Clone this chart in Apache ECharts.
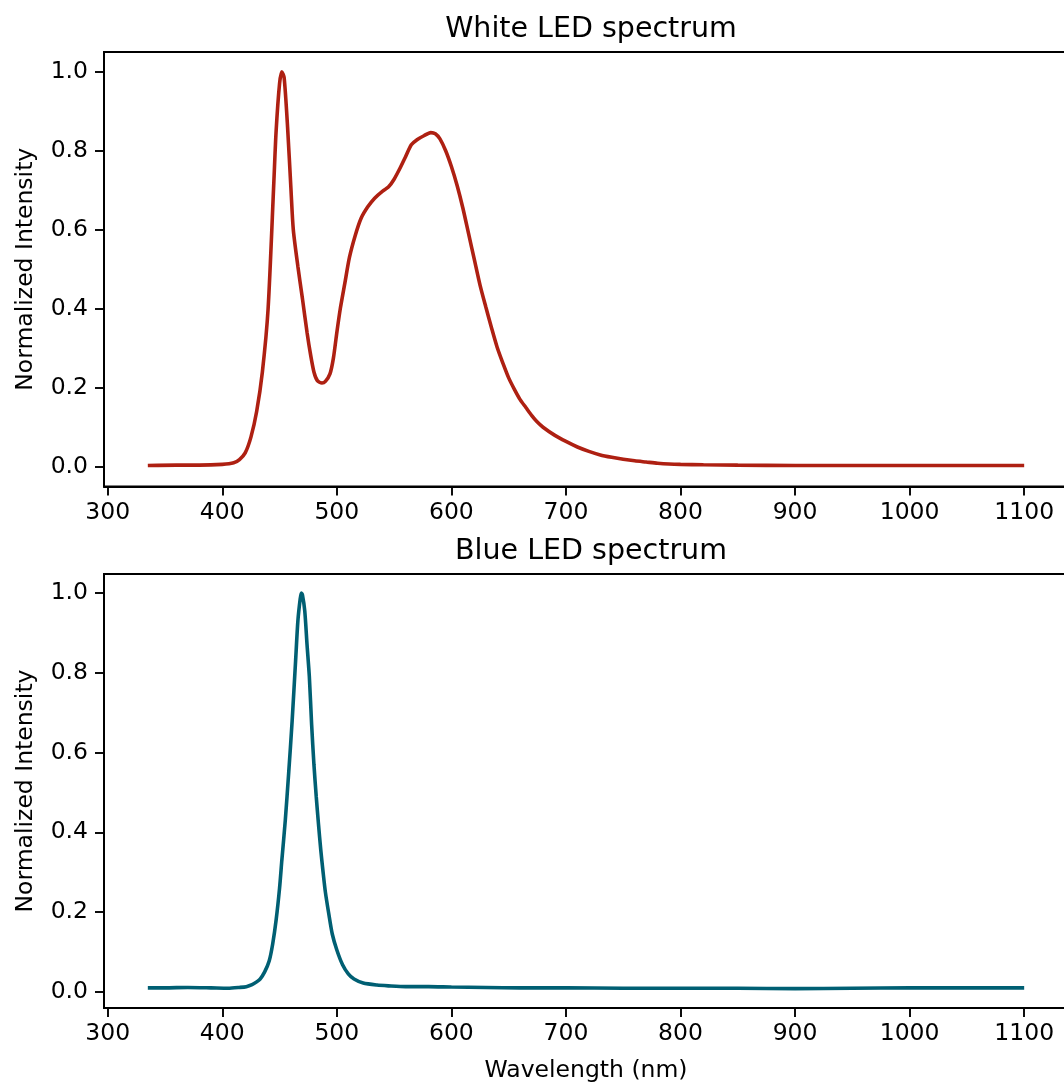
<!DOCTYPE html>
<html>
<head>
<meta charset="utf-8">
<script src="https://cdn.jsdelivr.net/npm/echarts@6/dist/echarts.min.js"></script>
<style>
  html, body { margin: 0; padding: 0; background: #ffffff; }
  #chart { width: 1064px; height: 1085px; }
</style>
</head>
<body>
<div id="chart"></div>
<script>
// White LED emission spectrum (wavelength in nm, normalized intensity)
const whiteWavelength = [
  335, 360, 380, 400, 410, 415, 420, 425, 430, 435, 440, 445, 447, 450, 452, 454, 457, 460, 462, 466,
  470, 474, 477, 480, 483, 487, 490, 494, 497, 500, 503, 507, 511, 516, 521, 527, 533, 540, 545, 550,
  555, 560, 565, 570, 576, 582, 586, 590, 595, 600, 605, 610, 615, 620, 625, 630, 635, 640, 645, 650,
  655, 660, 665, 670, 675, 680, 690, 700, 710, 720, 730, 740, 750, 760, 770, 780, 790, 800, 820, 850,
  900, 950, 1000, 1050, 1100
];
const whiteIntensity = [
  0.003, 0.004, 0.004, 0.006, 0.010, 0.018, 0.035, 0.075, 0.140, 0.240, 0.400, 0.720, 0.850, 0.970, 1.000, 0.985, 0.860, 0.700, 0.600, 0.507,
  0.425, 0.340, 0.285, 0.240, 0.218, 0.212, 0.216, 0.235, 0.275, 0.340, 0.400, 0.465, 0.530, 0.585, 0.628, 0.658, 0.680, 0.698, 0.708, 0.728,
  0.755, 0.785, 0.815, 0.828, 0.838, 0.846, 0.843, 0.830, 0.800, 0.760, 0.712, 0.655, 0.590, 0.525, 0.460, 0.405, 0.352, 0.302, 0.262, 0.225,
  0.196, 0.170, 0.150, 0.130, 0.113, 0.100, 0.080, 0.064, 0.050, 0.039, 0.030, 0.024, 0.019, 0.015, 0.012, 0.009, 0.007, 0.006, 0.005, 0.004,
  0.003, 0.003, 0.003, 0.003, 0.003
];

// Blue LED emission spectrum
const blueWavelength = [
  335, 350, 370, 390, 405, 415, 421, 426, 430, 433, 437, 441, 444, 447, 450, 452, 455, 458, 461, 464,
  466, 468, 469, 470, 472, 474, 476, 478, 480, 482, 484, 486, 488, 490, 493, 496, 500, 505, 510, 515,
  523, 535, 545, 560, 580, 600, 630, 660, 700, 750, 800, 850, 900, 950, 1000, 1050, 1100
];
const blueIntensity = [
  0.010, 0.010, 0.011, 0.010, 0.009, 0.011, 0.013, 0.018, 0.025, 0.032, 0.050, 0.078, 0.120, 0.180, 0.260, 0.330, 0.430, 0.550, 0.680, 0.830,
  0.930, 0.985, 1.000, 0.995, 0.955, 0.870, 0.790, 0.670, 0.570, 0.490, 0.420, 0.355, 0.300, 0.250, 0.195, 0.145, 0.105, 0.068, 0.045, 0.032,
  0.022, 0.017, 0.015, 0.013, 0.013, 0.012, 0.011, 0.010, 0.010, 0.009, 0.009, 0.009, 0.008, 0.009, 0.010, 0.010, 0.010
];

// Tick positions
const xTicks = [300, 400, 500, 600, 700, 800, 900, 1000, 1100];
const yTicks = [0, 0.2, 0.4, 0.6, 0.8, 1.0];

const panelTitles = ['White LED spectrum', 'Blue LED spectrum'];
const yAxisTitle = 'Normalized Intensity';
const xAxisTitle = 'Wavelength (nm)';

const FONT = 'DejaVu Sans';
const INK = '#000000';

function pairs(xs, ys) {
  return xs.map((x, i) => [x, ys[i]]);
}

function xAxisFor(gridIndex, withName) {
  return {
    type: 'value',
    gridIndex: gridIndex,
    min: 296.75,
    max: 1138.25,
    splitLine: { show: false },
    axisLine: { show: true, onZero: false, lineStyle: { color: INK, width: 1.9 } },
    axisTick: { show: true, length: 9, inside: false, customValues: xTicks, lineStyle: { color: INK, width: 1.9 } },
    axisLabel: {
      show: true, customValues: xTicks, margin: 14,
      fontFamily: FONT, fontSize: 23.5, color: INK,
      formatter: v => String(Math.round(v))
    },
    name: withName ? xAxisTitle : '',
    nameLocation: 'middle',
    nameGap: 51,
    nameTextStyle: { fontFamily: FONT, fontSize: 23.5, color: INK }
  };
}

function yAxisFor(gridIndex, min, max) {
  return {
    type: 'value',
    gridIndex: gridIndex,
    min: min,
    max: max,
    splitLine: { show: false },
    axisLine: { show: true, onZero: false, lineStyle: { color: INK, width: 1.9 } },
    axisTick: { show: true, length: 9, inside: false, customValues: yTicks, lineStyle: { color: INK, width: 1.9 } },
    axisLabel: {
      show: true, customValues: yTicks, margin: 16,
      fontFamily: FONT, fontSize: 23.5, color: INK,
      formatter: v => v.toFixed(1)
    },
    name: yAxisTitle,
    nameLocation: 'middle',
    nameGap: 66,
    nameTextStyle: { fontFamily: FONT, fontSize: 23.5, color: INK }
  };
}

const chart = echarts.init(document.getElementById('chart'), null, { renderer: 'canvas' });

// The plotting area runs slightly past the right edge of the canvas,
// so its right border stays out of view.
const gridBase = {
  left: 104, width: 964,
  outerBoundsMode: 'none', containLabel: false,
  show: true, borderColor: INK, borderWidth: 1.9, backgroundColor: 'transparent'
};

chart.setOption({
  animation: false,
  backgroundColor: '#ffffff',
  title: [
    {
      text: panelTitles[0], left: 586, top: 10, textAlign: 'center',
      textStyle: { fontFamily: FONT, fontSize: 28.5, fontWeight: 'normal', color: INK }
    },
    {
      text: panelTitles[1], left: 586, top: 532, textAlign: 'center',
      textStyle: { fontFamily: FONT, fontSize: 28.5, fontWeight: 'normal', color: INK }
    }
  ],
  grid: [
    Object.assign({}, gridBase, { top: 52, height: 434.5 }),
    Object.assign({}, gridBase, { top: 574, height: 434 })
  ],
  xAxis: [xAxisFor(0, false), xAxisFor(1, true)],
  yAxis: [yAxisFor(0, -0.05, 1.05), yAxisFor(1, -0.0405, 1.0476)],
  series: [
    {
      type: 'line', xAxisIndex: 0, yAxisIndex: 0,
      data: pairs(whiteWavelength, whiteIntensity),
      showSymbol: false, smooth: 0.25,
      lineStyle: { color: '#ae2012', width: 3.6 }
    },
    {
      type: 'line', xAxisIndex: 1, yAxisIndex: 1,
      data: pairs(blueWavelength, blueIntensity),
      showSymbol: false, smooth: 0.25,
      lineStyle: { color: '#005f73', width: 3.6 }
    }
  ]
});
</script>
</body>
</html>
